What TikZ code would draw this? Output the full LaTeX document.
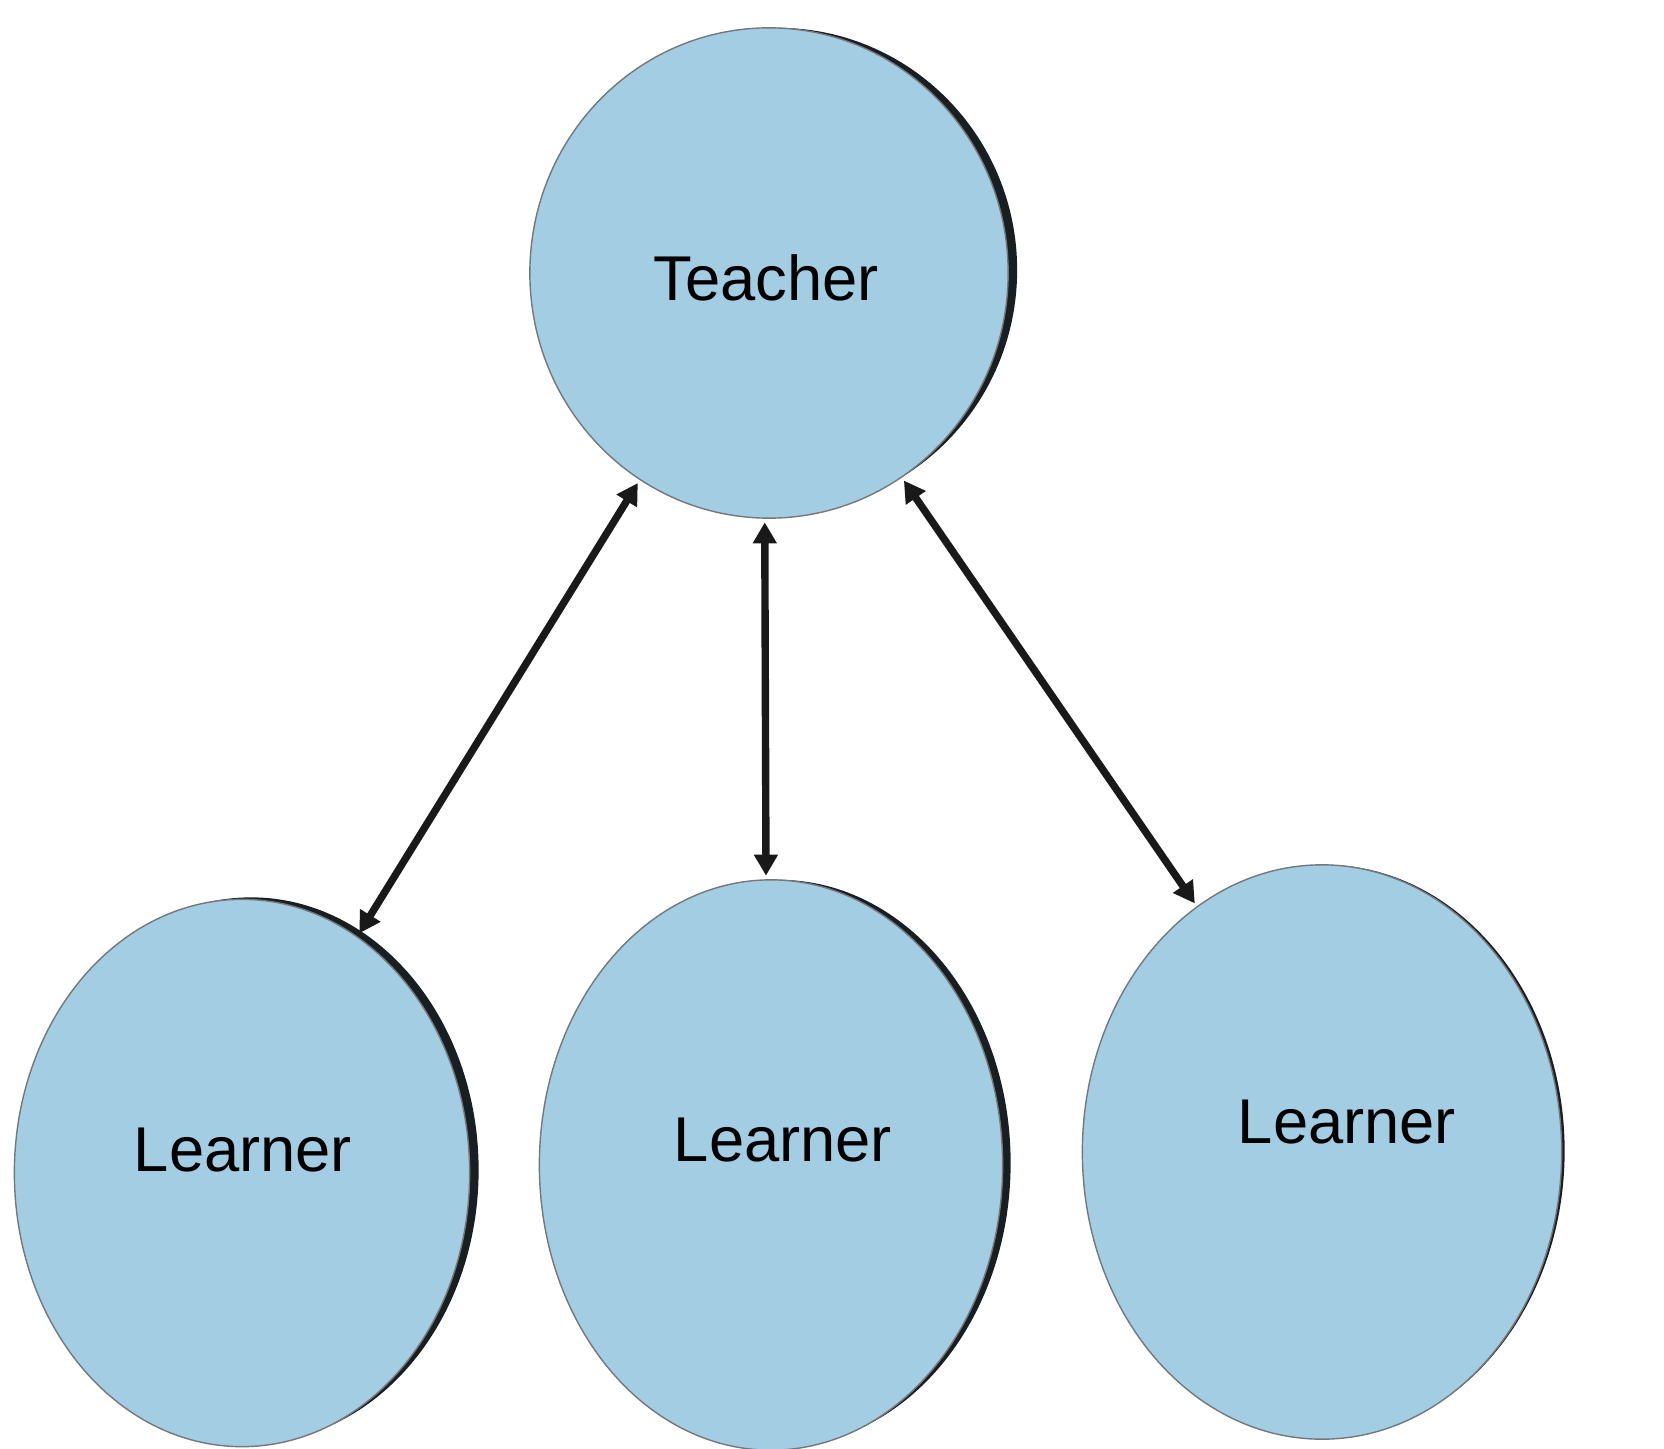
\documentclass[tikz,border=0pt]{standalone}
\usepackage{fontspec}
\setmainfont{Liberation Sans}
\usetikzlibrary{shapes.geometric,arrows.meta}
\definecolor{bluefill}{RGB}{162,205,226}
\definecolor{edgedark}{RGB}{25,30,35}
\tikzset{
  bubble/.style={ellipse, fill=bluefill, draw=edgedark!60, line width=0.4pt, inner sep=0pt},
  shade/.style={ellipse, fill=edgedark, inner sep=0pt},
  lbl/.style={font=\fontsize{18}{20}\selectfont, text=black},
  link/.style={draw=black!90, line width=2.1pt, {Triangle[length=6pt,width=6.5pt]}-{Triangle[length=6pt,width=6.5pt]}, shorten <=1pt, shorten >=1pt}
}
\begin{document}
\begin{tikzpicture}[x=0.01cm,y=-0.01cm]
\useasboundingbox (0,0) rectangle (1664,1449);
% shadows (dark right edges)
\node[shade, minimum width=4.78cm, minimum height=4.84cm] (sT) at (778,270) {};
\node[shade, minimum width=4.55cm, minimum height=5.45cm] (s1) at (251,1170) {};
\node[shade, minimum width=4.63cm, minimum height=5.66cm] (s2) at (779,1163) {};
\node[shade, minimum width=4.79cm, minimum height=5.72cm] (s3) at (1325,1151) {};
% bubbles
\node[bubble, minimum width=4.78cm, minimum height=4.90cm] (T) at (769,273) {};
\node[bubble, minimum width=4.55cm, minimum height=5.47cm] (L1) at (242,1173) {};
\node[bubble, minimum width=4.63cm, minimum height=5.70cm] (L2) at (771,1165) {};
\node[bubble, minimum width=4.79cm, minimum height=5.74cm] (L3) at (1322,1152) {};
% labels
\node[lbl] (tT) at (766,278) {Teacher};
\node[lbl] (t1) at (243,1150) {Learner};
\node[lbl] (t2) at (783,1140) {Learner};
\node[lbl] (t3) at (1347,1122) {Learner};
% connectors
\draw[link] (L1.64) -- (T.238);
\draw[link] (L2.91) -- (T.269);
\draw[link] (L3.117) -- (T.303);
\end{tikzpicture}
\end{document}
